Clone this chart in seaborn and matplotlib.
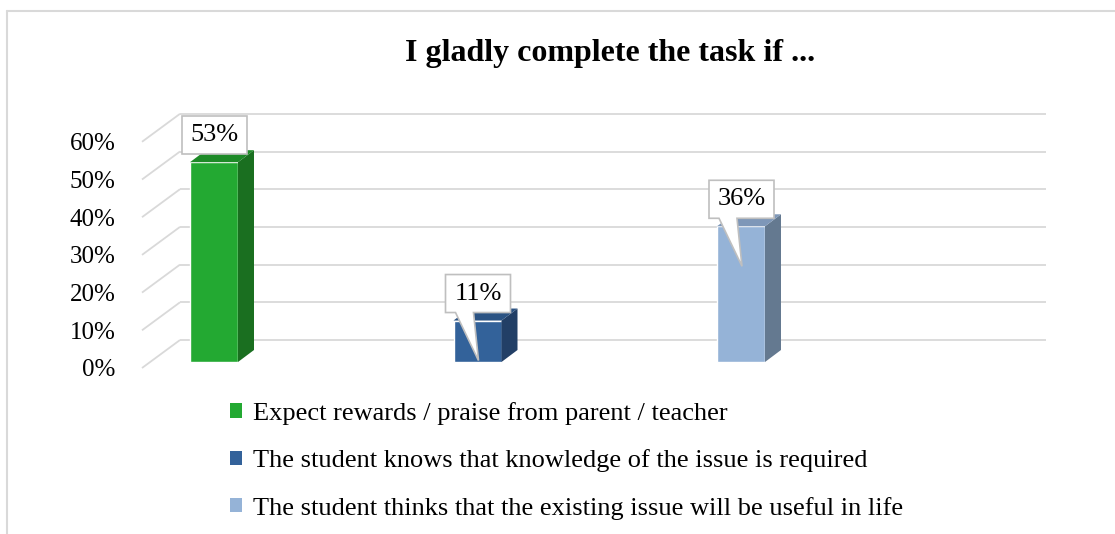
import numpy as np
import matplotlib.pyplot as plt
import seaborn as sns
from matplotlib.patches import Polygon, Patch
from matplotlib.lines import Line2D

categories = ['Expect rewards / praise from parent / teacher',
              'The student knows that knowledge of the issue is required',
              'The student thinks that the existing issue will be useful in life']
values = [53, 11, 36]
labels = ['53%', '11%', '36%']
yticks = [0, 10, 20, 30, 40, 50, 60]
ytick_labels = ['0%', '10%', '20%', '30%', '40%', '50%', '60%']
title = 'I gladly complete the task if ...'

front_colors = ['#23A932', '#33629A', '#95B3D7']
side_colors = ['#1A6F20', '#223F66', '#647990']
top_colors = ['#1D8A27', '#2B5383', '#7E97B8']
has_pointer = [False, True, True]

sns.set_style('white')
plt.rcParams['font.family'] = ['Liberation Serif', 'DejaVu Serif']
plt.rcParams['text.color'] = 'black'
plt.rcParams['ytick.color'] = 'black'

W, H = 1115, 534
fig = plt.figure(figsize=(W / 100, H / 100), dpi=100)
# axes: front plane of the pseudo-3D chart, in pixels
ax_l, ax_r, ax_b, ax_t = 142, 1046, 368, 100
ax = fig.add_axes([ax_l / W, (H - ax_b) / H, (ax_r - ax_l) / W, (ax_b - ax_t) / H])

px_x = 263.5   # pixels per category
px_y = 3.77    # pixels per percent
x0 = -(214 - ax_l) / px_x
x1 = x0 + (ax_r - ax_l) / px_x
ytop = (ax_b - ax_t) / px_y

# depth offsets (pixels -> data)
wall_dx, wall_dy = 38 / px_x, 28 / px_y
bar_base = 6 / px_y
bar_dx, bar_dy = 16 / px_x, 12 / px_y
bar_w = 48 / px_x

sns.barplot(x=categories, y=values, hue=categories, palette=front_colors,
            width=bar_w, saturation=1, legend=False, ax=ax, zorder=3)

# gridlines: side wall diagonals + back wall horizontals
grid_c = '#D9D9D9'
for v in yticks:
    ax.plot([x0, x0 + wall_dx], [v, v + wall_dy], color=grid_c, lw=1.3,
            zorder=1, solid_capstyle='butt', clip_on=False)
    ax.plot([x0 + wall_dx, x1], [v + wall_dy, v + wall_dy], color=grid_c,
            lw=1.3, zorder=1, solid_capstyle='butt', clip_on=False)

bars = sorted(ax.patches, key=lambda p: p.get_x())
for i, p in enumerate(bars):
    v = values[i]
    p.set_y(bar_base)
    p.set_height(v)
    xl = p.get_x()
    xr = xl + p.get_width()
    yt = bar_base + v
    side = [(xr, bar_base), (xr + bar_dx, bar_base + bar_dy),
            (xr + bar_dx, yt + bar_dy), (xr, yt)]
    top = [(xl, yt), (xl + bar_dx, yt + bar_dy), (xr + bar_dx, yt + bar_dy), (xr, yt)]
    ax.add_patch(Polygon(side, closed=True, facecolor=side_colors[i], edgecolor='none', zorder=3))
    ax.add_patch(Polygon(top, closed=True, facecolor=top_colors[i], edgecolor='none', zorder=3))

    # callout box
    bx = xl - 8 / px_x
    by = yt + 8 / px_y
    bw, bh = 65 / px_x, 38 / px_y
    pts = [(bx, by)]
    if has_pointer[i]:
        pts += [(bx + 10 / px_x, by), (xl + 25 / px_x, yt - 40 / px_y), (bx + 28 / px_x, by)]
    pts += [(bx + bw, by), (bx + bw, by + bh), (bx, by + bh)]
    ax.add_patch(Polygon(pts, closed=True, facecolor='white', edgecolor='#BFBFBF',
                         lw=1.2, zorder=5, clip_on=False))
    ax.text(bx + bw / 2, by + bh / 2, labels[i], ha='center', va='center',
            fontsize=19, color='black', zorder=6)

ax.set_xlim(x0, x1)
ax.set_ylim(0, ytop)
ax.set_yticks(yticks)
ax.set_yticklabels(ytick_labels, fontsize=18)
ax.set_xticks([])
ax.set_xlabel('')
ax.set_ylabel('')
ax.tick_params(axis='y', length=0, pad=19)
sns.despine(ax=ax, left=True, bottom=True)
ax.patch.set_alpha(0)

fig.text(610 / W, 1 - 53 / H, title, ha='center', va='center',
         fontsize=23, fontweight='bold')

handles = [Patch(facecolor=c, edgecolor='none') for c in front_colors]
fig.legend(handles, categories, loc='upper left', bbox_to_anchor=(230 / W, 1 - 402 / H),
           frameon=False, fontsize=19, handlelength=0.45, handleheight=0.45,
           handletextpad=0.42, labelspacing=0.92, borderpad=0, borderaxespad=0)

# chart area border (left and top)
fig.add_artist(Line2D([6.5 / W, 6.5 / W], [0, 1 - 10.5 / H], transform=fig.transFigure,
                      color='#D9D9D9', lw=1.5))
fig.add_artist(Line2D([6.5 / W, 1], [1 - 10.5 / H, 1 - 10.5 / H], transform=fig.transFigure,
                      color='#D9D9D9', lw=1.5))

fig.savefig('out.png', dpi=100)
